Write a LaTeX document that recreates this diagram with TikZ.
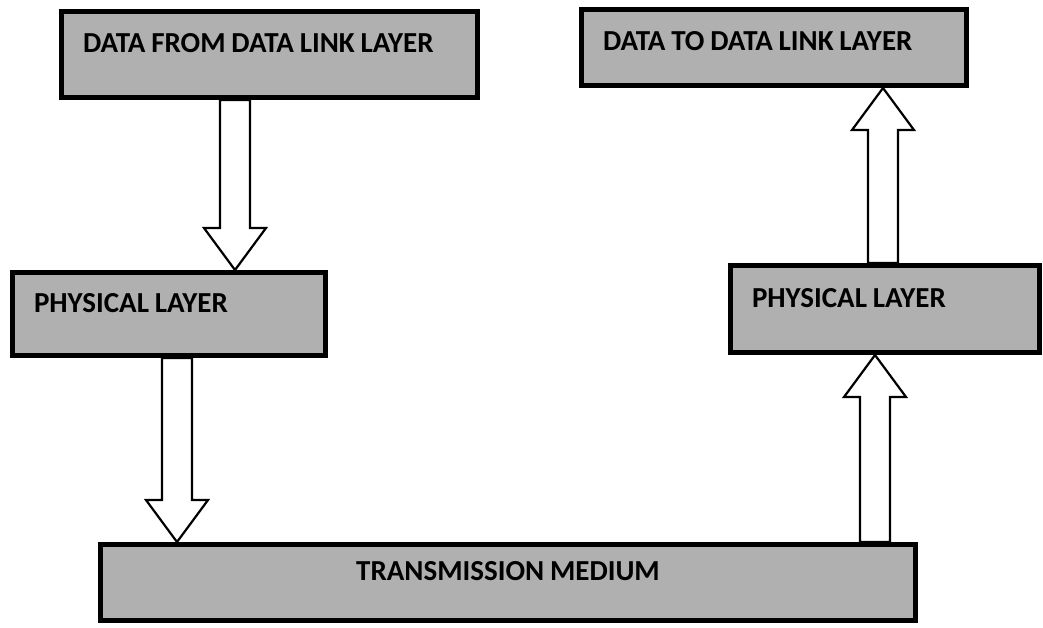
\documentclass[tikz,border=0pt]{standalone}
\usepackage{fontspec}
\setmainfont{Carlito}
\usetikzlibrary{backgrounds,calc}
\definecolor{layergray}{RGB}{176,176,176}
\newcommand{\layerfont}{\fontsize{14.5pt}{16pt}\selectfont\bfseries}
\newcommand{\blockarrow}[3]{%
\draw[blockarrow] let \p1=(#2), \p2=(#3), \p3=(#1,0), \n1={ifthenelse(\y2>\y1,21,-21)} in
 (\x3-7.5pt,\y1) -- (\x3-7.5pt,\y2-\n1*1pt) -- (\x3-15.5pt,\y2-\n1*1pt) -- (\x3,\y2)
 -- (\x3+15.5pt,\y2-\n1*1pt) -- (\x3+7.5pt,\y2-\n1*1pt) -- (\x3+7.5pt,\y1) -- cycle;}

\begin{document}
\begin{tikzpicture}[x=0.5pt,y=-0.5pt,
 layerbox/.style={draw=black, line width=2.5pt, fill=layergray,
  font=\layerfont, align=left, execute at begin node={\spaceskip 0.2em\relax},
  inner xsep=10.75pt, inner ysep=0pt, text height=9.3pt, text depth=11.3pt},
 blockarrow/.style={draw=black, line width=1.1pt, fill=white, line join=miter}]
\useasboundingbox (0,0) rectangle (1043,627);

\node[layerbox, minimum width=208pt, minimum height=43pt, text width=186.5pt] (dfrom) at (269.5,54.5) {DATA FROM DATA LINK LAYER};
\node[layerbox, minimum width=192.5pt, minimum height=38pt, text width=171pt, text depth=6.8pt] (dto) at (774,47.5) {DATA TO DATA LINK LAYER};
\node[layerbox, minimum width=156.5pt, minimum height=41.5pt, text width=135pt] (physl) at (169,314) {PHYSICAL LAYER};
\node[layerbox, minimum width=154.5pt, minimum height=43.5pt, text width=133pt] (physr) at (885,309) {PHYSICAL LAYER};
\node[layerbox, minimum width=407.5pt, minimum height=38pt, text width=386pt, align=center] (medium) at (508,582.5) {TRANSMISSION MEDIUM};

\begin{scope}[on background layer]
\blockarrow{235}{dfrom.south}{physl.north}
\blockarrow{177}{physl.south}{medium.north}
\blockarrow{875}{medium.north}{physr.south}
\blockarrow{883}{physr.north}{dto.south}
\end{scope}
\end{tikzpicture}
\end{document}
